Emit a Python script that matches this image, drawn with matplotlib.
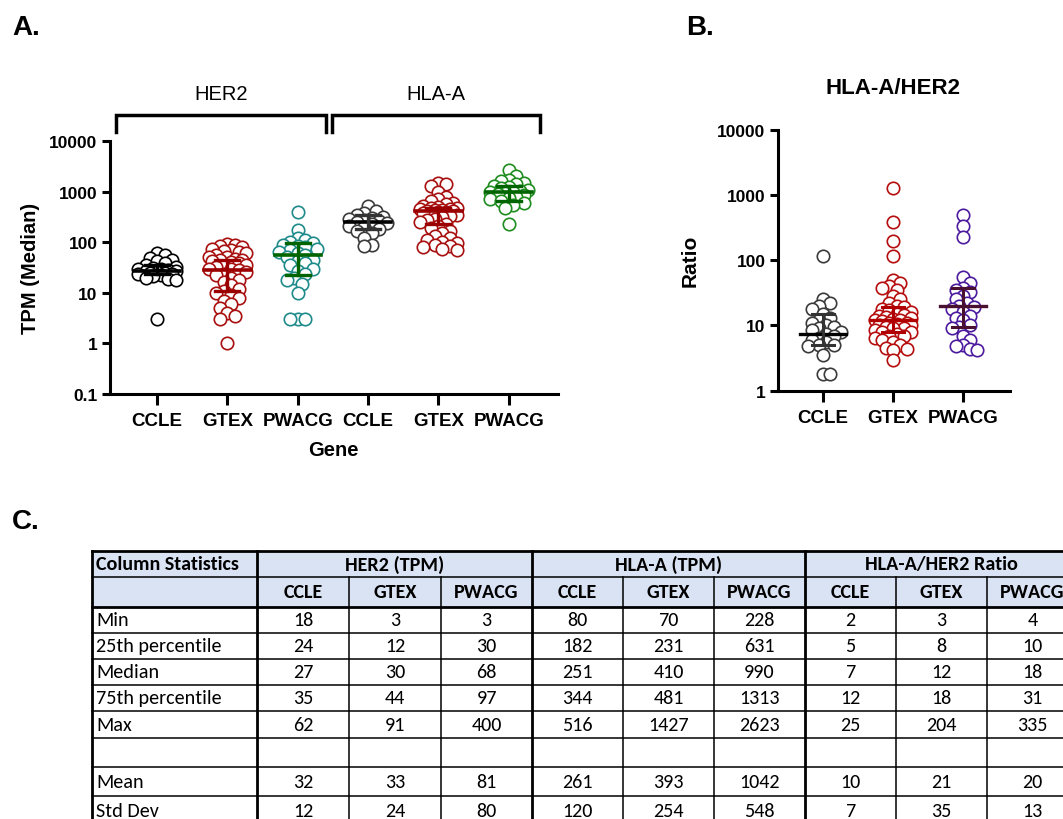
import numpy as np
import matplotlib.pyplot as plt
from matplotlib.patches import Rectangle

plt.rcParams['font.family'] = ['Liberation Sans', 'DejaVu Sans']

W, H = 1063, 820

# ---- panel A data (TPM) ----
a_labels = ['CCLE', 'GTEX', 'PWACG', 'CCLE', 'GTEX', 'PWACG']
her2_ccle = [62, 55, 48, 45, 42, 38, 35, 33, 31, 30, 29, 28, 27, 27, 26, 25, 25, 24, 23, 22, 21, 20, 19, 18, 3]
her2_gtex = [91, 88, 85, 80, 75, 70, 68, 65, 60, 55, 52, 50, 47, 45, 44, 42, 40, 38, 36, 34, 32, 30, 29,
             28, 26, 24, 22, 20, 18, 16, 14, 12, 11, 10, 9, 8, 7, 6, 5, 4, 3.5, 3, 1]
her2_pwacg = [400, 175, 120, 110, 100, 95, 90, 85, 80, 75, 70, 65, 60, 55, 50, 45, 42, 38, 35, 30, 27,
              24, 20, 18, 15, 10, 3, 3, 3]
hla_ccle = [520, 420, 380, 340, 320, 300, 290, 270, 260, 250, 240, 230, 210, 200, 185, 170, 150, 120, 90, 85]
hla_gtex = [1500, 1400, 1300, 1000, 800, 700, 650, 600, 560, 530, 500, 480, 470, 460, 450, 440, 430, 420,
            410, 400, 390, 380, 370, 350, 330, 310, 290, 270, 250, 230, 210, 190, 170, 150, 130, 120, 110,
            100, 95, 90, 85, 80, 75, 70]
hla_pwacg = [2620, 2000, 1700, 1600, 1500, 1400, 1300, 1250, 1200, 1100, 1050, 1000, 980, 950, 900, 850,
             800, 750, 700, 650, 600, 550, 480, 230]
a_q1 = [24, 11, 22, 182, 231, 650]
a_med = [27, 28, 56, 251, 410, 990]
a_q3 = [36, 45, 96, 344, 481, 1313]

# ---- panel B data (HLA-A/HER2 ratio) ----
b_labels = ['CCLE', 'GTEX', 'PWACG']
ratio_ccle = [117, 25, 22, 20, 18, 15, 13, 12, 11, 10, 9.5, 9, 8.5, 8, 7.5, 7, 6.5, 6, 5.5, 5, 5, 4.8,
              3.5, 1.8, 1.8]
ratio_gtex = [1300, 380, 200, 117, 50, 45, 40, 38, 35, 28, 25, 22, 20, 19, 18, 17, 16, 15, 14.5, 14,
              13.5, 13, 12.5, 12, 12, 11.5, 11, 11, 10.5, 10, 10, 9.5, 9, 9, 8.5, 8, 8, 7.5, 7, 7, 6.5,
              6, 5.5, 5, 4.5, 4.3, 4.2, 3]
ratio_pwacg = [500, 335, 230, 55, 45, 38, 35, 32, 28, 25, 22, 20, 19, 18, 16, 14, 13, 12, 10, 9.5, 9,
               7, 6, 5, 4.8, 4.3, 4.2]
b_q1 = [5, 8, 9.5]
b_med = [7.5, 12, 20]
b_q3 = [15, 19, 37]

# ---- table C ----
tab_groups = ['HER2 (TPM)', 'HLA-A (TPM)', 'HLA-A/HER2 Ratio']
tab_sub = ['CCLE', 'GTEX', 'PWACG']
tab_rows = ['Min', '25th percentile', 'Median', '75th percentile', 'Max', '', 'Mean', 'Std Dev']
tab_min = [18, 3, 3, 80, 70, 228, 2, 3, 4]
tab_p25 = [24, 12, 30, 182, 231, 631, 5, 8, 10]
tab_median = [27, 30, 68, 251, 410, 990, 7, 12, 18]
tab_p75 = [35, 44, 97, 344, 481, 1313, 12, 18, 31]
tab_max = [62, 91, 400, 516, 1427, 2623, 25, 204, 335]
tab_mean = [32, 33, 81, 261, 393, 1042, 10, 21, 20]
tab_sd = [12, 24, 80, 120, 254, 548, 7, 35, 13]


def swarm(ax, x0, vals, diam, half):
    # simple beeswarm in pixel space, points are allowed to overlap a bit
    pts = ax.transData.transform([(x0, v) for v in vals])
    ys = pts[:, 1]
    ppu = ax.transData.transform((x0 + 1, vals[0]))[0] - pts[0, 0]
    step = diam * 0.3
    cands = [0.0]
    k = 1
    while k * step <= half:
        cands += [k * step, -k * step]
        k += 1
    placed = []
    offs = np.zeros(len(vals))
    for i in np.argsort(-np.asarray(vals)):
        best, bestd = 0.0, -1
        for c in cands:
            d = min([np.hypot(c - ox, ys[i] - oy) for ox, oy in placed], default=1e9)
            if d >= diam * 0.6:
                best = c
                break
            if d > bestd:
                bestd, best = d, c
        placed.append((best, ys[i]))
        offs[i] = best
    return x0 + offs / ppu


def style_axis(ax):
    for s in ['top', 'right']:
        ax.spines[s].set_visible(False)
    for s in ['left', 'bottom']:
        ax.spines[s].set_linewidth(2.2)
    ax.minorticks_off()
    ax.tick_params(axis='y', length=6, width=2.2, labelsize=12.5, pad=3)
    ax.tick_params(axis='x', length=8, width=2.2, labelsize=13.5, pad=5)
    for t in ax.get_xticklabels() + ax.get_yticklabels():
        t.set_fontweight('bold')


fig = plt.figure(figsize=(W / 100, H / 100), dpi=100)

# ---------------- panel A ----------------
axA = fig.add_axes([110 / W, 1 - 395 / H, 448 / W, 253 / H])
axA.set_yscale('log')
axA.set_ylim(0.1, 10000)
axA.set_xlim(-0.67, 5.7)
a_data = [her2_ccle, her2_gtex, her2_pwacg, hla_ccle, hla_gtex, hla_pwacg]
a_pt_col = ['#000000', '#a80f0f', '#1f8a8a', '#3a3a3a', '#a80f0f', '#1e8c1e']
a_med_col = ['#000000', '#9b0000', '#006400', '#000000', '#9b0000', '#006400']
a_iqr_col = ['#000000', '#9b0000', '#006400', '#333333', '#9b0000', '#006400']
for i, vals in enumerate(a_data):
    xs = swarm(axA, i, vals, 12.5, 20)
    axA.scatter(xs, vals, s=80, facecolors='white', edgecolors=a_pt_col[i], linewidths=1.2, zorder=2)
    axA.plot([i - 0.33, i + 0.33], [a_med[i]] * 2, color=a_med_col[i], lw=2.6, zorder=4)
    axA.plot([i, i], [a_q1[i], a_q3[i]], color=a_iqr_col[i], lw=2.4, zorder=4)
    for q in (a_q1[i], a_q3[i]):
        axA.plot([i - 0.17, i + 0.17], [q, q], color=a_iqr_col[i], lw=2.4, zorder=4)
axA.set_yticks([0.1, 1, 10, 100, 1000, 10000])
axA.set_yticklabels(['0.1', '1', '10', '100', '1000', '10000'])
axA.set_xticks(range(6))
axA.set_xticklabels(a_labels)
style_axis(axA)

# ---------------- panel B ----------------
axB = fig.add_axes([778 / W, 1 - 391.7 / H, 232 / W, 261 / H])
axB.set_yscale('log')
axB.set_ylim(1, 10000)
axB.set_xlim(-0.64, 2.67)
b_data = [ratio_ccle, ratio_gtex, ratio_pwacg]
b_pt_col = ['#3a3a3a', '#b50d0d', '#4b1a9e']
b_med_col = ['#000000', '#b00000', '#4a1030']
b_iqr_col = ['#333333', '#b00000', '#4a1030']
for i, vals in enumerate(b_data):
    xs = swarm(axB, i, vals, 12, 21)
    axB.scatter(xs, vals, s=80, facecolors='white', edgecolors=b_pt_col[i], linewidths=1.2, zorder=2)
    axB.plot([i - 0.33, i + 0.33], [b_med[i]] * 2, color=b_med_col[i], lw=2.4, zorder=4)
    axB.plot([i, i], [b_q1[i], b_q3[i]], color=b_iqr_col[i], lw=2.2, zorder=4)
    for q in (b_q1[i], b_q3[i]):
        axB.plot([i - 0.16, i + 0.16], [q, q], color=b_iqr_col[i], lw=2.2, zorder=4)
axB.set_yticks([1, 10, 100, 1000, 10000])
axB.set_yticklabels(['1', '10', '100', '1000', '10000'])
axB.set_xticks(range(3))
axB.set_xticklabels(b_labels)
style_axis(axB)

# ---------------- overlay in pixel coords ----------------
ov = fig.add_axes([0, 0, 1, 1], zorder=-1)
ov.set_xlim(0, W)
ov.set_ylim(H, 0)
ov.axis('off')

ov.text(12, 28, 'A.', fontsize=20, fontweight='bold', va='center')
ov.text(686, 28, 'B.', fontsize=20, fontweight='bold', va='center')
ov.text(12, 522, 'C.', fontsize=20, fontweight='bold', va='center')
ov.text(31, 268, 'TPM (Median)', fontsize=14.5, fontweight='bold', rotation=90, ha='center', va='center')
ov.text(333, 451, 'Gene', fontsize=14.5, fontweight='bold', ha='center', va='center')
ov.text(690, 261, 'Ratio', fontsize=15, fontweight='bold', rotation=90, ha='center', va='center')
ov.text(893, 88, 'HLA-A/HER2', fontsize=16, fontweight='bold', ha='center', va='center')

for (x0, x1), lab in zip([(116, 326), (332, 540)], ['HER2', 'HLA-A']):
    ov.plot([x0, x0, x1, x1], [133, 116, 116, 133], color='black', lw=2.5, solid_joinstyle='miter')
    ov.text((x0 + x1) / 2, 95, lab, fontsize=14.5, ha='center', va='center')

# table
cols_x = [92, 257, 349, 441, 532, 623, 714, 805, 896, 987, 1078]
rows_y = [552, 578, 608, 634, 660, 686, 712, 739, 768, 797, 826]
tfont = ['Carlito', 'Liberation Sans Narrow', 'DejaVu Sans']
tsize = 14.5
hdr = '#dae3f3'
ov.add_patch(Rectangle((cols_x[0], rows_y[0]), cols_x[-1] - cols_x[0], rows_y[2] - rows_y[0],
                       facecolor=hdr, edgecolor='none'))
body = [tab_min, tab_p25, tab_median, tab_p75, tab_max, [''] * 9, tab_mean, tab_sd]

# horizontal lines
for j, y in enumerate(rows_y):
    lw = 2.0 if j in (0, 2) else 1.1
    ov.plot([cols_x[0], cols_x[-1]], [y, y], color='black', lw=lw)
# vertical lines
for k, x in enumerate(cols_x):
    thick = k in (0, 1, 4, 7, 10)
    y_top = rows_y[0] if thick else rows_y[1]
    ov.plot([x, x], [y_top, rows_y[-1]], color='black', lw=2.0 if thick else 1.1)

ov.text(cols_x[0] + 4, (rows_y[0] + rows_y[1]) / 2, 'Column Statistics', family=tfont,
        fontsize=tsize, fontweight='bold', va='center')
for g, lab in enumerate(tab_groups):
    xc = (cols_x[1 + 3 * g] + cols_x[4 + 3 * g]) / 2
    ov.text(xc, (rows_y[0] + rows_y[1]) / 2, lab, family=tfont, fontsize=tsize, fontweight='bold',
            ha='center', va='center')
for c in range(9):
    xc = (cols_x[c + 1] + cols_x[c + 2]) / 2
    ov.text(xc, (rows_y[1] + rows_y[2]) / 2, tab_sub[c % 3], family=tfont, fontsize=tsize,
            fontweight='bold', ha='center', va='center')
for r, lab in enumerate(tab_rows):
    yc = (rows_y[r + 2] + rows_y[r + 3]) / 2
    ov.text(cols_x[0] + 4, yc, lab, family=tfont, fontsize=tsize, va='center')
    for c in range(9):
        xc = (cols_x[c + 1] + cols_x[c + 2]) / 2
        ov.text(xc, yc, str(body[r][c]), family=tfont, fontsize=tsize, ha='center', va='center')

fig.savefig('out.png', dpi=100)
